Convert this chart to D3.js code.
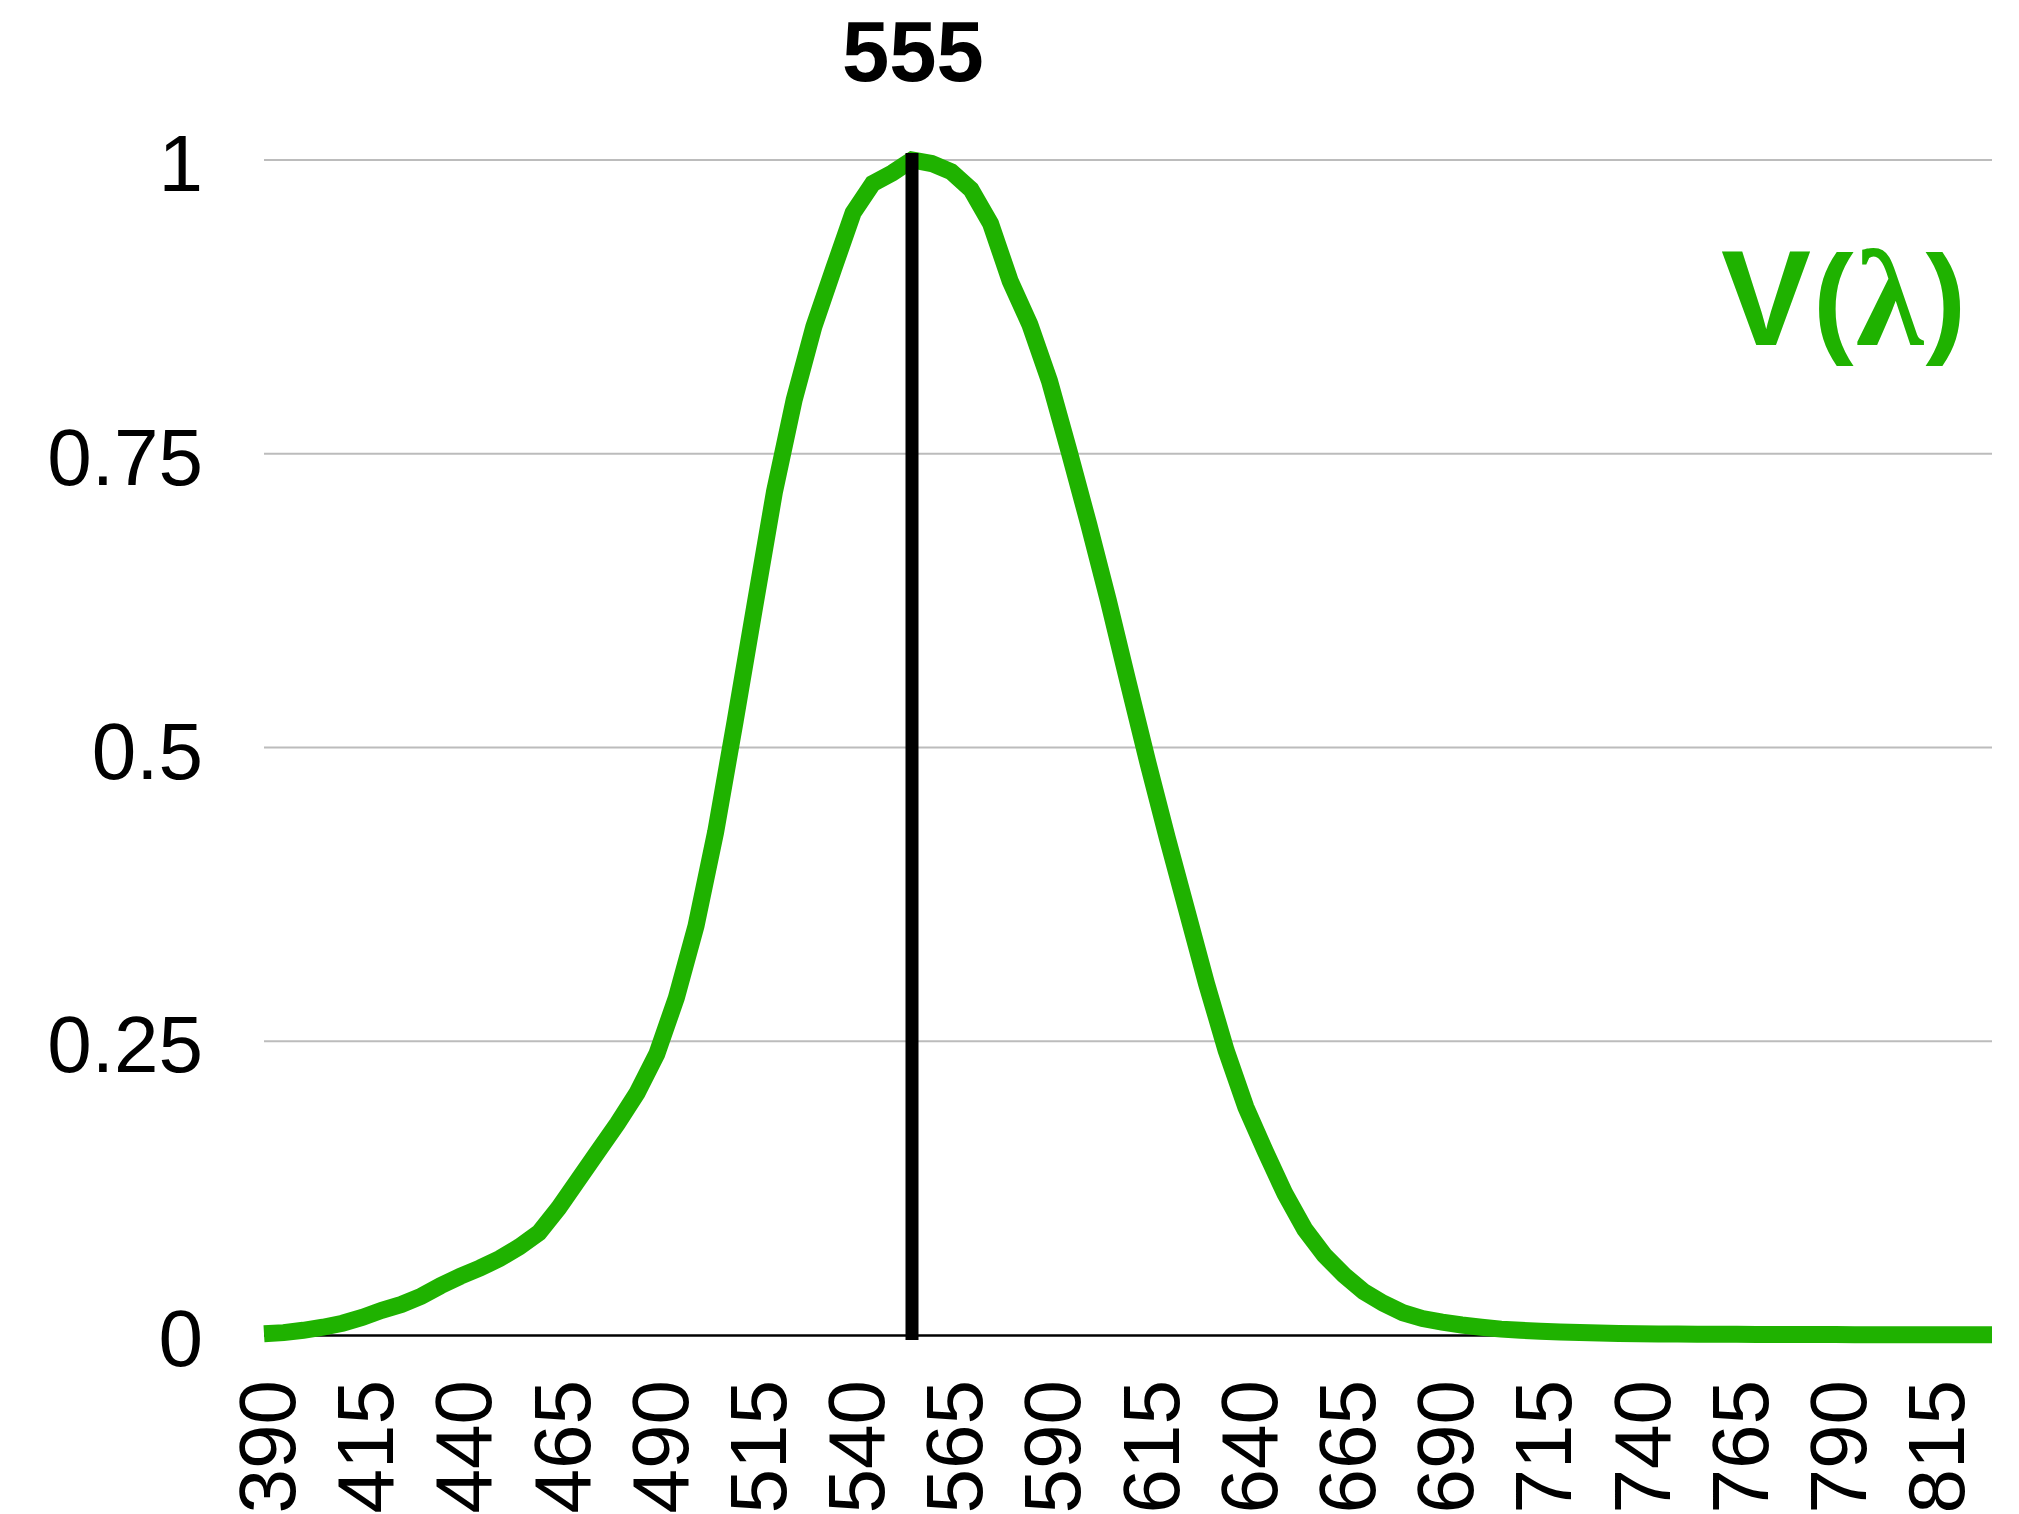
<!DOCTYPE html>
<html>
<head>
<meta charset="utf-8">
<script src="https://cdn.jsdelivr.net/npm/d3@7"></script>
<style>
  html, body { margin: 0; padding: 0; background: #ffffff; }
  svg { display: block; }
</style>
</head>
<body>
<script>
// ---------------- data ----------------
const wavelengths = [
  390, 395, 400, 405, 410, 415, 420, 425, 430, 435,
  440, 445, 450, 455, 460, 465, 470, 475, 480, 485,
  490, 495, 500, 505, 510, 515, 520, 525, 530, 535,
  540, 545, 550, 555, 560, 565, 570, 575, 580, 585,
  590, 595, 600, 605, 610, 615, 620, 625, 630, 635,
  640, 645, 650, 655, 660, 665, 670, 675, 680, 685,
  690, 695, 700, 705, 710, 715, 720, 725, 730, 735,
  740, 745, 750, 755, 760, 765, 770, 775, 780, 785,
  790, 795, 800, 805, 810, 815, 820, 825, 830
];
const vLambda = [
  0.001, 0.002, 0.004, 0.0066, 0.010, 0.015, 0.021, 0.026, 0.033, 0.042,
  0.050, 0.057, 0.065, 0.075, 0.087, 0.108, 0.132, 0.156, 0.180, 0.206,
  0.239, 0.287, 0.348, 0.428, 0.523, 0.621, 0.718, 0.796, 0.858, 0.907,
  0.955, 0.980, 0.989, 1.000, 0.997, 0.990, 0.975, 0.946, 0.897, 0.860,
  0.812, 0.752, 0.690, 0.625, 0.556, 0.488, 0.423, 0.361, 0.299, 0.242,
  0.194, 0.156, 0.120, 0.090, 0.068, 0.051, 0.037, 0.027, 0.019, 0.014,
  0.011, 0.0085, 0.0066, 0.005, 0.004, 0.0032, 0.0026, 0.0021, 0.0017, 0.0013,
  0.0010, 0.0009, 0.0008, 0.0007, 0.0006, 0.0006, 0.0005, 0.0005, 0.0004, 0.0004,
  0.0004, 0.0003, 0.0003, 0.0003, 0.0003, 0.0002, 0.0002, 0.0002, 0.0002
];
const xTickLabels = ["390","415","440","465","490","515","540","565","590","615",
                     "640","665","690","715","740","765","790","815"];
const yTickValues = [0, 0.25, 0.5, 0.75, 1];
const yTickLabels = ["0", "0.25", "0.5", "0.75", "1"];
const peakWavelength = 555;
const peakLabel = "555";
const seriesLabel = "V(λ)";

(function () {
  // ---------------- layout ----------------
  const W = 2019, H = 1514;
  const plotLeft = 264, plotRight = 1992, plotTop = 160, plotBottom = 1335;
  const green = "#1fb200";
  const sans = "'Liberation Sans', Arial, Helvetica, sans-serif";
  const serif = "'Liberation Serif', 'Times New Roman', serif";

  const svg = d3.select("body").append("svg")
    .attr("width", W).attr("height", H)
    .attr("viewBox", `0 0 ${W} ${H}`);

  const x = d3.scalePoint().domain(wavelengths).range([plotLeft, plotRight]).padding(0);
  const y = d3.scaleLinear().domain([0, 1]).range([plotBottom, plotTop]);

  // gridlines
  svg.append("g").selectAll("line")
    .data(yTickValues.filter(v => v > 0))
    .join("line")
    .attr("x1", plotLeft).attr("x2", plotRight)
    .attr("y1", d => y(d)).attr("y2", d => y(d))
    .attr("stroke", "#bcbcbc").attr("stroke-width", 2);

  // baseline
  svg.append("line")
    .attr("x1", plotLeft).attr("x2", plotRight)
    .attr("y1", y(0) + 0.5).attr("y2", y(0) + 0.5)
    .attr("stroke", "#000").attr("stroke-width", 2.5);

  // y tick labels
  svg.append("g").selectAll("text")
    .data(yTickValues)
    .join("text")
    .attr("x", 203)
    .attr("y", d => y(d) + 31)
    .attr("text-anchor", "end")
    .attr("font-family", sans)
    .attr("font-size", 80)
    .attr("fill", "#000")
    .text((d, i) => yTickLabels[i]);

  // x tick labels (rotated)
  svg.append("g").selectAll("text")
    .data(xTickLabels)
    .join("text")
    .attr("transform", d => `translate(${x(+d) + 31},1380) rotate(-90)`)
    .attr("text-anchor", "end")
    .attr("font-family", sans)
    .attr("font-size", 80)
    .attr("fill", "#000")
    .text(d => d);

  // curve
  const line = d3.line()
    .x((d, i) => x(wavelengths[i]))
    .y(d => y(d));

  svg.append("path")
    .datum(vLambda)
    .attr("d", line)
    .attr("fill", "none")
    .attr("stroke", green)
    .attr("stroke-width", 17)
    .attr("stroke-linejoin", "miter")
    .attr("stroke-miterlimit", 10)
    .attr("stroke-linecap", "butt");

  // peak marker line
  svg.append("line")
    .attr("x1", x(peakWavelength)).attr("x2", x(peakWavelength))
    .attr("y1", y(1) - 7).attr("y2", y(0) + 5)
    .attr("stroke", "#000").attr("stroke-width", 13);

  // peak label
  svg.append("text")
    .attr("x", x(peakWavelength) + 1)
    .attr("y", 81)
    .attr("text-anchor", "middle")
    .attr("font-family", sans)
    .attr("font-weight", "bold")
    .attr("font-size", 85)
    .attr("fill", "#000")
    .text(peakLabel);

  // series label V(λ)
  const chars = Array.from(seriesLabel); // ["V","(","λ",")"]
  const lab = svg.append("text")
    .attr("x", 1721)
    .attr("y", 345)
    .attr("text-anchor", "start")
    .attr("font-family", sans)
    .attr("font-weight", "bold")
    .attr("fill", green);
  lab.append("tspan").attr("font-size", 135).text(chars[0]);
  lab.append("tspan").attr("font-size", 122).attr("dx", 2).attr("dy", -4).text(chars[1]);
  lab.append("tspan").attr("font-size", 138).attr("font-family", serif)
     .attr("font-weight", "bold").attr("dx", 2).attr("dy", 4).text(chars[2]);
  lab.append("tspan").attr("font-size", 122).attr("dx", 2).attr("dy", -4).text(chars[3]);
})();
</script>
</body>
</html>
